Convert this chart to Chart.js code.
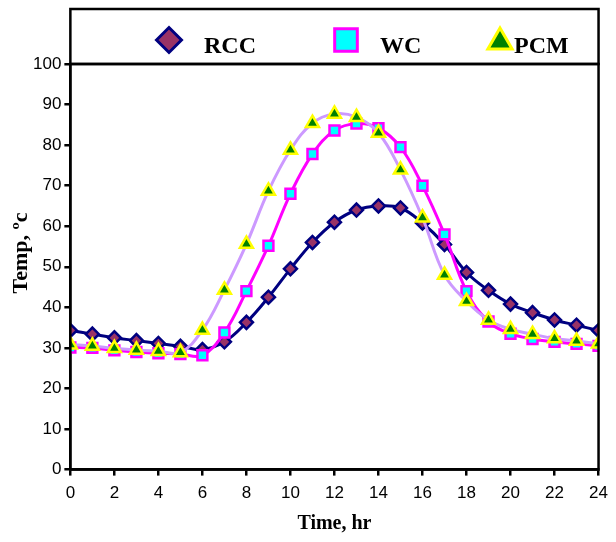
<!DOCTYPE html>
<html>
<head>
<meta charset="utf-8">
<title>Temperature vs time</title>
<script src="https://cdn.jsdelivr.net/npm/chart.js@4.4.1/dist/chart.umd.min.js"></script>
<style>
  html, body { margin: 0; padding: 0; background: #fff; }
  canvas { display: block; }
</style>
</head>
<body>
<canvas id="temp-chart" width="616" height="542"></canvas>
<script>
// hours of the day
const hours = [0, 1, 2, 3, 4, 5, 6, 7, 8, 9, 10, 11, 12, 13, 14, 15, 16, 17, 18, 19, 20, 21, 22, 23, 24];

// temperatures, degrees C
const rcc = [34.3, 33.4, 32.5, 31.8, 31.1, 30.4, 29.6, 31.5, 36.3, 42.5, 49.5, 56, 61, 64, 65, 64.5, 60.8, 55.5, 48.6, 44.2, 40.8, 38.7, 36.9, 35.6, 34.3];
const wc = [30.1, 30, 29.4, 29, 28.7, 28.5, 28.2, 33.8, 44, 55.2, 68, 77.8, 83.6, 85.3, 84.2, 79.5, 70, 58, 44, 36.5, 33.5, 32.2, 31.5, 31, 30.5];
const pcm = [30.8, 30.5, 29.9, 29.5, 29.2, 28.9, 34.4, 44.3, 55.6, 68.7, 78.8, 85.4, 87.7, 86.9, 83, 73.9, 62.1, 48, 41.5, 36.9, 34.6, 33.4, 32.3, 31.7, 31];

const seriesNames = ['RCC', 'WC', 'PCM'];
const yTicks = [0, 10, 20, 30, 40, 50, 60, 70, 80, 90, 100];
const yTitle = 'Temp, ºc';

const toPoints = vals => vals.map((v, i) => ({ x: hours[i], y: v }));

const serifBold = { family: '"Liberation Serif", "Times New Roman", serif', weight: 'bold' };
const sans = { family: '"Liberation Sans", Arial, sans-serif', size: 17 };

// frame round the plot, the boxed legend above it and the y title
const frameAndLegend = {
    id: 'frameAndLegend',
    afterDraw(chart) {
        const ctx = chart.ctx;
        const a = chart.chartArea;
        ctx.save();
        ctx.strokeStyle = '#000';
        ctx.lineWidth = 2.5;
        ctx.strokeRect(a.left, a.top, a.right - a.left, a.bottom - a.top);
        ctx.strokeRect(a.left, 9, a.right - a.left, a.top - 9);

        const spots = [
            { mark: 169, text: 204, size: 12.5 },
            { mark: 346, text: 380, size: 16 },
            { mark: 500, text: 514, size: 14 }
        ];
        const y = 40;
        ctx.font = 'bold 24px "Liberation Serif", "Times New Roman", serif';
        ctx.textBaseline = 'alphabetic';
        ctx.textAlign = 'left';
        chart.data.datasets.forEach((ds, i) => {
            ctx.fillStyle = ds.pointBackgroundColor;
            ctx.strokeStyle = ds.pointBorderColor;
            ctx.lineWidth = 3;
            Chart.helpers.drawPoint(ctx, {
                pointStyle: ds.pointStyle,
                radius: spots[i].size,
                rotation: 0,
                borderWidth: 3
            }, spots[i].mark, y + (ds.pointStyle === 'triangle' ? 2 : 0));
            ctx.fillStyle = '#000';
            ctx.fillText(ds.label, spots[i].text, 53);
        });

        // rotated y title
        ctx.translate(21, 253);
        ctx.rotate(-Math.PI / 2);
        ctx.textAlign = 'center';
        ctx.textBaseline = 'middle';
        ctx.font = 'bold 22px "Liberation Serif", "Times New Roman", serif';
        ctx.fillText(yTitle, 0, 0);
        ctx.restore();
    }
};

new Chart(document.getElementById('temp-chart'), {
    type: 'line',
    data: {
        datasets: [
            {
                label: seriesNames[0],
                data: toPoints(rcc),
                borderColor: '#000080',
                borderWidth: 3,
                tension: 0.4,
                pointStyle: 'rectRot',
                pointRadius: 6.5,
                pointBackgroundColor: '#993366',
                pointBorderColor: '#000080',
                pointBorderWidth: 2.5,
                order: 3
            },
            {
                label: seriesNames[1],
                data: toPoints(wc),
                borderColor: '#ff00ff',
                borderWidth: 3,
                tension: 0.4,
                pointStyle: 'rect',
                pointRadius: 7,
                pointBackgroundColor: '#00ffff',
                pointBorderColor: '#ff00ff',
                pointBorderWidth: 2.5,
                order: 2
            },
            {
                label: seriesNames[2],
                data: toPoints(pcm),
                borderColor: '#cc99ff',
                borderWidth: 3,
                tension: 0.4,
                pointStyle: 'triangle',
                pointRadius: 7.5,
                pointBackgroundColor: '#008000',
                pointBorderColor: '#ffff00',
                pointBorderWidth: 2.5,
                order: 1
            }
        ]
    },
    options: {
        responsive: false,
        animation: false,
        layout: { padding: { top: 64, right: 11, left: 30, bottom: 6 } },
        plugins: {
            legend: { display: false },
            tooltip: { enabled: false }
        },
        scales: {
            x: {
                type: 'linear',
                min: hours[0],
                max: hours[hours.length - 1],
                border: { display: true, color: '#000', width: 2.5 },
                grid: { drawOnChartArea: false, color: '#000', lineWidth: 2.5, tickLength: 6 },
                ticks: { stepSize: 2, color: '#000', font: sans, padding: 8, maxRotation: 0 },
                title: {
                    display: true,
                    text: 'Time, hr',
                    color: '#000',
                    font: { ...serifBold, size: 20 },
                    padding: { top: 0, bottom: 0 }
                }
            },
            y: {
                min: yTicks[0],
                max: yTicks[yTicks.length - 1],
                border: { display: true, color: '#000', width: 2.5 },
                grid: { drawOnChartArea: false, color: '#000', lineWidth: 2.5, tickLength: 6 },
                ticks: { stepSize: 10, color: '#000', font: sans, padding: 3 }
            }
        }
    },
    plugins: [frameAndLegend]
});
</script>
</body>
</html>
